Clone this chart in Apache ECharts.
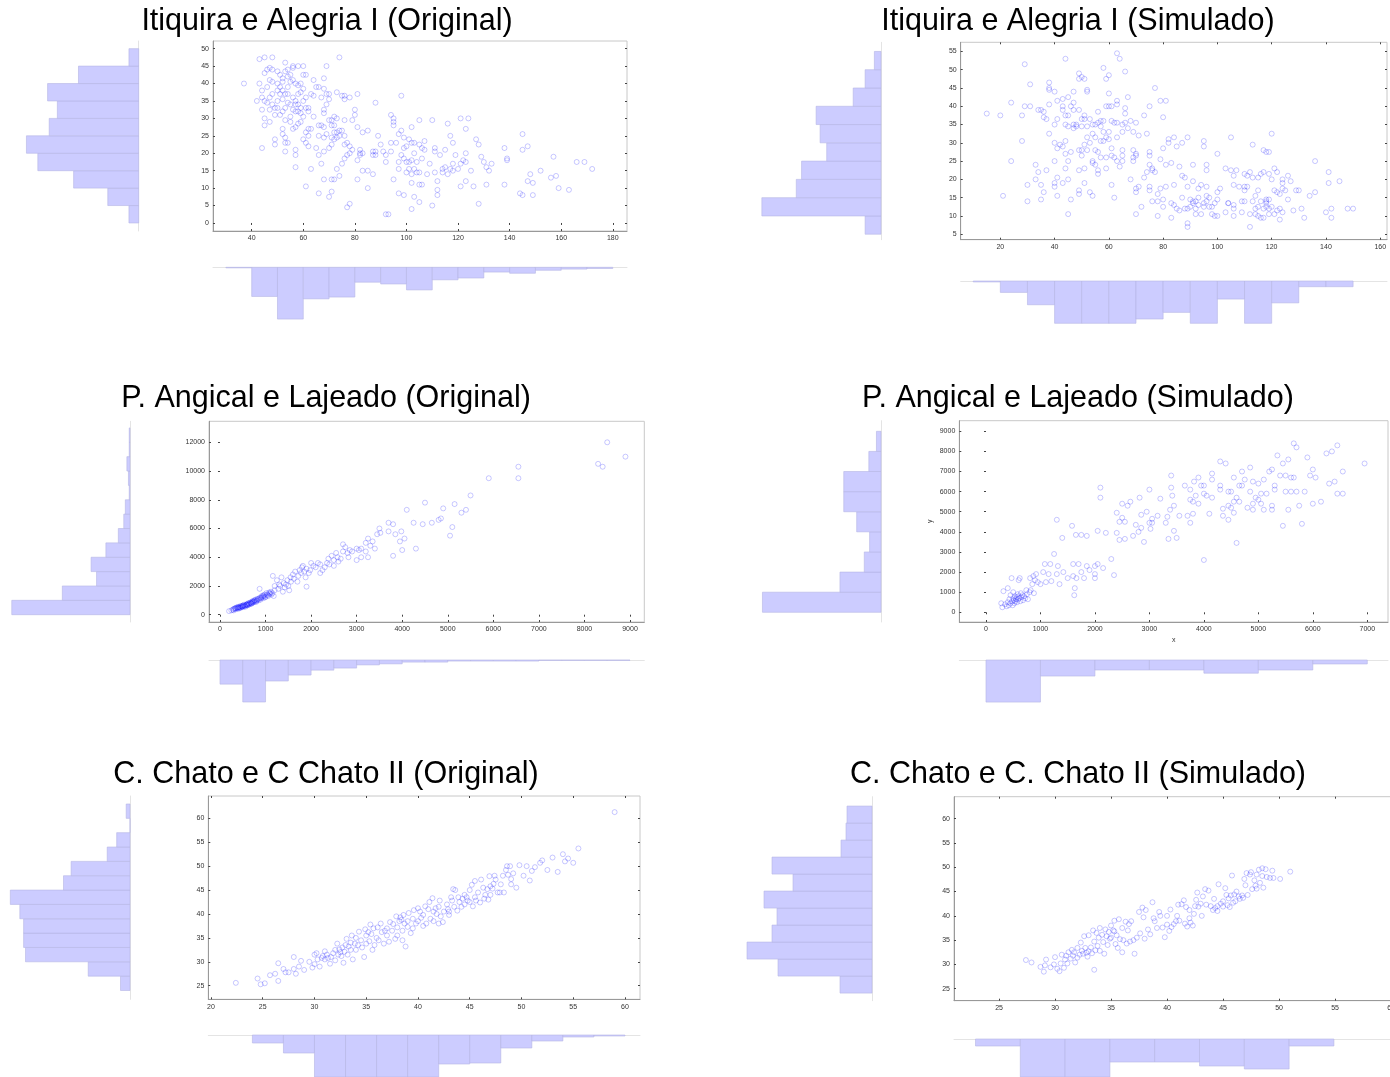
<!DOCTYPE html>
<html><head><meta charset="utf-8">
<script src="https://cdn.jsdelivr.net/npm/echarts@6/dist/echarts.min.js"></script>
<style>html,body{margin:0;padding:0;background:#fff;overflow:hidden;}#c{width:1410px;height:1077px;}</style>
</head><body><div id="c"></div>
<script>
// ---------------- DATA ----------------
const titles = ['Itiquira e Alegria I (Original)', 'Itiquira e Alegria I (Simulado)',
  'P. Angical e Lajeado (Original)', 'P. Angical e Lajeado (Simulado)',
  'C. Chato e C Chato II (Original)', 'C. Chato e C. Chato II (Simulado)'];

const p1XTicks = [40,60,80,100,120,140,160,180];
const p1YTicks = [0,5,10,15,20,25,30,35,40,45,50];
const p2XTicks = [20,40,60,80,100,120,140,160];
const p2YTicks = [5,10,15,20,25,30,35,40,45,50,55];
const p3XTicks = [0,1000,2000,3000,4000,5000,6000,7000,8000,9000];
const p3YTicks = [0,2000,4000,6000,8000,10000,12000];
const p4XTicks = [0,1000,2000,3000,4000,5000,6000,7000];
const p4YTicks = [0,1000,2000,3000,4000,5000,6000,7000,8000,9000];
const p5XTicks = [20,25,30,35,40,45,50,55,60];
const p5YTicks = [25,30,35,40,45,50,55,60];
const p6XTicks = [25,30,35,40,45,50,55,60];
const p6YTicks = [25,30,35,40,45,50,55,60];

const p1Points = [[37,40],[42,35],[43,47],[43,40],[44,38],[44,36],[44,32.5],[44,21.5],[45,47.5],[45,43],[45,35],[45,30],[45,28],[46,44],[46,39],[46,34.5],[47,44.5],[47,41],[47,36],[47,32.5],[47,29],[48,47.5],[48,44],[48,40.5],[48,37],[48,34],[49,33],[49,31],[49,24],[49,22.5],[50,43.5],[50,40],[50,38],[50,35],[50,33],[51,42.5],[51,39],[51,37],[51,31],[52,41.5],[52,40.5],[52,38],[52,35.5],[52,32],[52,27],[52,25.5],[53,46],[53,43.5],[53,37],[53,33],[53,29.5],[53,24.5],[53,23],[53,20.5],[54,44],[54,42],[54,39],[54,37],[54,34.5],[54,23],[55,42.5],[55,40.5],[55,34],[55,30.5],[55,29],[56,45],[56,44.5],[56,41],[56,36],[56,32.5],[56,27],[57,40],[57,35],[57,34],[57,32],[57,27.5],[57,21],[57,19.5],[57,16],[58,45],[58,39.5],[58,37],[58,34],[58,32],[58,28.5],[59,40],[59,37.5],[59,33],[59,31.5],[59,29],[60,45],[60,42.5],[60,38.5],[60,35],[60,30.5],[60,24],[61,42.5],[61,36],[61,33],[61,26],[61,23],[61,10.5],[62,33],[62,32],[62,27],[62,25],[62,22],[63,37],[63,27],[63,15.5],[64,41],[64,36.5],[64,30.5],[65,39],[65,21.5],[66,39],[66,28],[66,25],[66,19.5],[66,8.5],[67,36],[67,28],[67,17],[68,41.5],[68,38.5],[68,32.5],[68,31.5],[68,27.5],[68,24.5],[68,20.5],[68,12.5],[69,45],[69,37],[69,34],[69,25.5],[70,37],[70,35.5],[70,29.5],[70,21.5],[70,7.5],[71,29.5],[71,28],[71,24.5],[71,22.5],[71,12.5],[71,9],[72,30.5],[72,28],[72,26],[72,24],[72,12.5],[73,37.5],[73,30],[73,26],[73,24.5],[73,15.5],[74,47.5],[74,26.5],[74,25],[74,13.5],[75,36.5],[75,26.5],[75,17],[76,36.5],[76,35.5],[76,29.5],[76,25],[76,22.5],[76,18.5],[77,23],[77,19.5],[77,4.5],[78,36],[78,22],[78,20],[78,5.5],[79,29.5],[79,21],[80,32.5],[80,31],[81,37],[81,27.5],[81,18],[81,12.5],[82,21],[82,20],[82,19.5],[83,26],[83,20],[83,15],[85,26.5],[85,15],[85,10],[87,20.5],[87,19.5],[87,14],[88,34.5],[88,19.5],[88,20.5],[89,25],[90,22.5],[91,20.5],[92,19.5],[92,17.5],[92,2.5],[93,2.5],[94,31],[94,23],[94,20.5],[95,30],[95,29],[95,28],[95,12.5],[96,23],[97,25.5],[97,17.5],[97,15.5],[97,8.5],[98,36.5],[98,26.5],[98,19.5],[99,24.5],[99,21.5],[99,18.5],[99,8],[100,22],[100,17.5],[100,14.5],[101,24],[101,17.5],[101,15.5],[102,27.5],[102,23],[102,18],[102,14],[102,11.5],[102,4],[103,23],[103,20],[103,15.5],[103,7.5],[104,14.5],[104,17.5],[105,29.5],[105,22.5],[105,14.5],[105,11],[105,6],[106,21.5],[106,18.5],[106,11],[107,23.5],[107,21],[108,14],[109,17],[110,29.5],[110,5],[111,21.5],[111,20.5],[111,14.5],[112,12],[112,9.5],[112,8],[113,19.5],[114,15.5],[114,14.5],[115,21],[115,16],[116,28.5],[116,14],[117,25],[117,15.5],[118,23],[118,17],[118,15],[119,19.5],[120,15.5],[121,30],[121,17],[121,10.5],[122,18],[123,27],[123,20],[123,17.5],[123,12],[124,30],[125,15],[126,10.5],[127,24],[128,22.5],[128,5.5],[129,19],[130,17.5],[131,16],[131,11],[132,15],[133,17],[138,21.5],[138,11],[139,18.5],[139,18],[144,8.5],[145,25.5],[145,21],[145,8],[147,22],[147,12],[148,14],[149,11.5],[149,8],[152,15],[156,13],[157,19],[158,13.5],[159,10],[163,9.5],[166,17.5],[169,17.5],[172,15.5]];

const p2Points = [[15,38],[20,37.5],[21,15.5],[24,41],[24,25],[28,37.5],[28,30.5],[29,51.5],[29,40],[30,18.5],[30,14],[31,46],[31,40],[33,24],[33,20],[34,39],[34,22],[35,39],[35,18.5],[35,14.5],[36,38.5],[36,37],[36,16.5],[37,36.5],[37,22.5],[38,46.5],[38,45],[38,44.5],[38,40.5],[38,32.5],[40,44],[40,35],[40,30],[40,25],[40,19],[40,18],[41,41.5],[41,36.5],[41,28.5],[41,20.5],[41,15.5],[42,29.5],[43,42],[43,40],[43,39],[43,29],[43,19],[44,53],[44,37.5],[44,35],[44,30.5],[44,27],[44,23],[45,42.5],[45,37.5],[45,34.5],[45,25],[45,20],[45,10.5],[46,40],[46,27.5],[46,14.5],[47,44],[47,41],[47,39],[47,35],[47,34],[48,35],[48,34.5],[49,47.5],[49,49],[49,39],[49,28],[49,22.5],[49,17],[49,16],[50,48],[50,36.5],[50,34.5],[50,28],[50,26.5],[51,47.5],[51,37.5],[51,36.5],[51,29.5],[51,23],[51,19],[52,44.5],[52,44],[52,34.5],[52,31.5],[52,28],[53,36.5],[53,30],[53,16.5],[54,35],[54,32.5],[54,25],[54,24.5],[54,15.5],[55,35],[55,31.5],[55,28],[55,24],[56,38.5],[56,35.5],[56,27.5],[56,22.5],[56,21.5],[57,36],[57,34.5],[57,30.5],[57,26],[58,50.5],[58,36],[58,33],[58,30.5],[59,47.5],[59,40],[59,31.5],[59,26],[59,23],[60,48.5],[60,43.5],[60,40],[60,33],[60,31],[61,40],[61,36],[61,28.5],[61,26.5],[61,18.5],[62,35.5],[62,26],[62,15],[63,54.5],[63,41.5],[63,40.5],[63,35.5],[63,31.5],[63,25],[64,53],[64,23.5],[65,35],[65,33],[65,28],[65,26.5],[65,25],[66,49.5],[66,39.5],[66,38],[66,35.5],[67,42.5],[67,34],[68,36],[68,20],[69,33],[69,28],[69,26],[69,25],[70,35.5],[70,27],[70,26.5],[70,17.5],[70,16.5],[70,10.5],[71,18],[71,32],[72,12.5],[73,37.5],[73,20.5],[74,32.5],[74,22],[75,40],[75,27.5],[75,26.5],[75,24],[75,18],[75,17],[76,23],[76,22.5],[76,14],[77,45],[77,22],[78,16],[78,14],[78,10],[79,41.5],[79,25.5],[79,17.5],[80,37],[80,14.5],[80,12.5],[80,28.5],[81,41.5],[81,24],[81,18],[82,31],[82,30],[83,24.5],[83,13.5],[83,9.5],[84,31.5],[84,18.5],[84,13],[85,29],[85,12],[86,23.5],[86,11.5],[87,30],[87,21],[87,15],[88,20.5],[88,12],[89,31.5],[89,18],[89,12],[89,8],[89,7],[90,14.5],[90,12.5],[91,24],[91,19.5],[91,14],[91,13.5],[92,14],[92,12],[92,10.5],[93,17.5],[93,15],[93,13],[94,18.5],[94,10.5],[95,30.5],[95,29],[95,13.5],[95,12.5],[96,24],[96,22.5],[96,18],[96,15.5],[96,14],[97,15],[97,12.5],[98,10.5],[98,12.5],[99,13.5],[99,10],[100,27],[100,16.5],[100,14.5],[100,10],[101,17.5],[103,23],[103,11],[104,13.5],[104,13.5],[105,22.5],[105,31.5],[106,21],[106,18.5],[106,13],[106,12],[106,10],[107,22.5],[108,18],[109,14],[109,11],[110,21.5],[110,18],[110,17],[110,14],[111,21],[111,18],[112,22],[112,10.5],[112,7],[113,29.5],[113,20.5],[113,14],[114,15.5],[114,12],[114,10.5],[115,20.5],[115,17],[115,12.5],[115,10],[116,21.5],[116,14],[116,9.5],[117,28],[117,22],[117,12],[117,9.5],[118,27.5],[118,14.5],[118,14],[118,13.5],[118,12.5],[119,21.5],[119,27.5],[119,14.5],[119,12],[119,10.5],[120,20],[120,32.5],[120,12.5],[121,23],[121,17],[121,10.5],[122,22],[122,16.5],[122,11.5],[123,9],[123,16],[123,12],[124,19],[124,17.5],[124,11],[124,20],[125,17],[126,21],[126,14.5],[127,19.5],[128,11.5],[129,17],[130,17],[131,12],[132,9.5],[134,15.5],[136,25],[136,16.5],[140,11],[141,22],[141,19],[142,12],[142,9.5],[145,19.5],[148,12],[150,12]];

const p3Points = [[200,250],[250,300],[280,350],[300,400],[300,300],[320,420],[330,450],[350,380],[350,450],[360,500],[380,500],[390,420],[400,480],[400,550],[410,520],[420,430],[430,520],[440,480],[450,600],[460,500],[470,600],[480,550],[490,580],[500,620],[500,520],[510,650],[520,600],[530,700],[540,580],[550,650],[560,560],[570,660],[580,700],[590,720],[600,750],[600,650],[610,680],[620,800],[630,700],[640,780],[650,720],[660,850],[670,820],[680,780],[690,760],[700,900],[700,800],[710,870],[720,950],[730,850],[740,920],[750,1000],[760,900],[770,980],[780,1050],[790,880],[800,950],[810,1000],[820,1100],[830,1080],[850,1000],[860,1120],[870,1800],[880,1200],[890,1050],[900,1150],[910,1200],[920,1300],[940,1250],[950,1350],[950,1150],[970,1300],[980,1400],[990,1200],[1000,1250],[1020,1500],[1030,1400],[1050,1350],[1060,1300],[1080,1550],[1090,1500],[1100,1450],[1120,1600],[1130,1400],[1150,1500],[1160,2700],[1180,1300],[1200,1700],[1200,2000],[1250,2400],[1280,1800],[1300,2100],[1320,2000],[1350,2600],[1380,1600],[1400,2200],[1420,1900],[1450,2100],[1480,2400],[1500,2000],[1520,1700],[1550,2600],[1560,2300],[1600,2800],[1620,2500],[1650,3000],[1700,2300],[1720,2700],[1750,3100],[1780,2900],[1800,3300],[1820,3400],[1850,3000],[1880,2600],[1900,1950],[1900,3200],[1950,2900],[1980,3100],[2000,3600],[2050,3400],[2100,3300],[2150,3600],[2200,3500],[2200,2900],[2250,3100],[2300,3300],[2350,3600],[2380,3900],[2400,3500],[2450,4100],[2500,3800],[2500,3400],[2550,4300],[2580,4000],[2600,3700],[2650,3900],[2700,4900],[2700,4400],[2750,4700],[2800,4300],[2820,4000],[2850,4500],[2900,4400],[3000,3800],[3000,4600],[3050,4500],[3100,4600],[3100,4000],[3200,5000],[3200,4400],[3250,5300],[3250,4000],[3300,4800],[3350,5100],[3400,4600],[3450,5600],[3500,6000],[3520,5700],[3700,5800],[3700,6400],[3800,6300],[3800,4100],[3850,5600],[3950,5100],[3980,5800],[4000,4500],[4050,5300],[4100,7300],[4250,6400],[4300,4600],[4450,6300],[4500,7800],[4650,6400],[4800,6600],[4850,6700],[4900,7400],[5050,5500],[5100,6100],[5150,7700],[5300,7100],[5400,7300],[5500,8300],[5900,9500],[6550,9500],[6550,10300],[8300,10500],[8400,10300],[8500,12000],[8900,11000]];

const p4Points = [[280,450],[300,250],[320,1050],[350,400],[380,300],[400,500],[400,1200],[420,350],[430,650],[450,850],[450,450],[470,1700],[480,550],[490,350],[500,700],[500,1000],[510,600],[520,450],[530,800],[540,550],[550,650],[560,750],[570,500],[580,900],[590,650],[600,1600],[600,800],[610,700],[620,1700],[630,550],[640,950],[650,750],[670,850],[680,600],[700,800],[720,700],[740,1100],[750,900],[770,650],[800,1000],[810,1700],[820,1100],[850,1400],[870,1800],[880,950],[900,1600],[920,1900],[950,1500],[1000,1400],[1050,2000],[1080,2400],[1100,1500],[1150,1900],[1180,2400],[1200,1550],[1250,2900],[1300,4600],[1300,1900],[1320,2300],[1350,1400],[1400,3700],[1420,2000],[1500,1700],[1580,4300],[1600,2400],[1600,1800],[1620,850],[1630,1200],[1650,3850],[1660,1700],[1700,2400],[1750,3850],[1750,2000],[1800,1700],[1850,3800],[1850,2300],[1900,2100],[2000,2300],[2000,1700],[2000,1900],[2050,4050],[2050,2400],[2100,6200],[2100,5700],[2150,2200],[2200,3950],[2300,2650],[2350,1850],[2400,3950],[2400,4950],[2450,4500],[2450,3600],[2500,4700],[2500,5400],[2550,3650],[2550,4500],[2600,5300],[2650,5500],[2700,3800],[2750,4350],[2800,4000],[2820,5700],[2850,4850],[2850,4200],[2900,3500],[2950,5000],[3000,4450],[3000,6100],[3020,4150],[3050,4450],[3050,4650],[3150,4800],[3200,5650],[3300,4450],[3330,4750],[3350,3650],[3380,5100],[3400,6800],[3400,6200],[3420,5800],[3450,5300],[3450,4050],[3500,3700],[3550,4800],[3650,6300],[3700,4800],[3750,4450],[3750,5600],[3750,6100],[3800,4900],[3800,5500],[3820,6500],[3850,5800],[3900,6700],[3900,5400],[3950,6300],[4000,6300],[4000,5900],[4000,2600],[4050,5800],[4100,4900],[4150,6600],[4150,6900],[4150,5700],[4300,7500],[4300,6300],[4300,6100],[4350,5150],[4350,4800],[4400,7400],[4450,4600],[4450,6000],[4450,5300],[4500,6000],[4500,5200],[4550,6700],[4550,5500],[4550,4950],[4600,3450],[4600,5700],[4650,5500],[4650,6300],[4700,7000],[4700,6300],[4750,6600],[4800,5200],[4850,7200],[4850,6000],[4900,6500],[4900,5400],[4900,5100],[4950,5700],[5000,6400],[5000,5600],[5050,5400],[5050,5900],[5100,6600],[5100,5100],[5150,5900],[5200,7000],[5250,7100],[5250,5300],[5250,5100],[5300,6100],[5300,6300],[5350,7800],[5400,6800],[5450,4300],[5450,7400],[5500,6800],[5500,6000],[5550,7600],[5550,5100],[5600,6700],[5600,6000],[5650,8400],[5650,6700],[5700,8200],[5700,6000],[5750,5300],[5800,4400],[5850,6000],[5900,7700],[5950,6800],[6000,5400],[6000,7100],[6050,6700],[6150,5500],[6250,7900],[6300,6400],[6350,8000],[6400,6500],[6450,8300],[6450,5900],[6550,7000],[6550,5900],[6950,7400]];

const p5Points = [[22.4,25.6],[24.5,26.5],[24.8,25.3],[25.2,25.5],[25.7,27.2],[26.2,27.5],[26.5,26],[26.5,29.7],[27,28.5],[27.2,27.8],[27.5,27.8],[28,28.5],[28,31],[28.2,27.5],[28.5,29],[28.7,30.2],[29,28.3],[29.5,30],[29.8,28.8],[30,31.5],[30,29.5],[30.2,31.8],[30.5,29],[30.7,30.8],[31,32.2],[31,30.5],[31.2,31.5],[31.5,29.6],[31.6,31],[32,32.5],[32,30.3],[32.3,31.5],[32.5,32],[32.7,33],[32.8,29.8],[33,33.5],[33.2,31.5],[33.5,34],[33.5,32.5],[33.7,30.5],[34,35],[34,32.5],[34.2,33.5],[34.5,34.5],[34.8,31],[35,35.5],[35,33.8],[35.3,34.3],[35.5,35.8],[35.6,32.5],[35.8,33.5],[36,35],[36.2,34.5],[36.5,36.2],[36.7,33.8],[37,35.5],[37,37],[37.2,34.2],[37.5,36.5],[37.8,34.8],[38,35.5],[38,37.2],[38.2,38.5],[38.5,36.5],[38.5,34.5],[38.8,33.2],[39,37.3],[39,38.5],[39.3,36],[39.5,39],[39.5,37],[39.8,38],[40,38.5],[40.2,40.5],[40.5,37.5],[40.5,39.8],[40.8,38],[41,41],[41.2,39],[41.5,38.5],[41.5,40.5],[41.8,40],[42,41.5],[42,38],[42.2,39.5],[42.5,40.5],[42.8,42],[43,40.5],[43,39.8],[43.2,43.5],[43.5,41.5],[43.8,40.7],[44,42.5],[44.2,41.5],[44.5,42],[44.5,44],[44.7,43.5],[45,42.5],[45,45],[45.3,41.6],[45.5,43.5],[45.8,44.5],[46,42.4],[46.3,45.5],[46.5,44],[46.8,43],[47,45.8],[47,44],[47.3,46.3],[47.5,47.2],[47.7,44.5],[48,46.2],[48.2,48],[48.5,49.2],[48.7,48.2],[49,46.2],[49,47.3],[49.2,48.5],[49.5,45.5],[49.8,50.2],[50.2,48],[50.5,50],[50.8,47],[51,49],[51.3,49.8],[51.8,50.7],[52,51.2],[52.5,49.2],[53,51.8],[53.5,48.8],[54,52.5],[54.2,51],[54.5,51.6],[55,50.7],[55.5,53.7],[59,61.3],[30.3,30.5],[30.8,31.2],[31.3,30.8],[31.8,31.8],[32.2,33.8],[32.4,32.6],[32.6,31.2],[32.9,32.1],[33.1,34.8],[33.3,33.2],[33.6,35.5],[33.9,33.8],[34.3,36.3],[34.6,33],[34.9,36.8],[35.2,36.2],[35.4,37.8],[35.7,37],[36.1,37.2],[36.4,38],[36.8,36.5],[37.3,38.3],[37.6,37.9],[37.9,39.5],[38.3,39.3],[38.6,39.8],[38.4,38.8],[38.7,38],[39.1,40.2],[39.6,40.8],[40,41.2],[40.3,39.2],[40.7,41.6],[41.1,42.5],[41.4,43.3],[41.7,41.2],[42.1,42.8],[42.4,38.3],[42.9,41],[43.3,42.8],[43.6,45],[43.4,45.2],[43.9,43.5],[44.3,43.2],[44.8,42.8],[45.2,46.1],[45.6,42.8],[45.5,46.9],[46.1,47.2],[46.4,43.2],[46.9,47.9],[47.4,48],[47.9,44.5],[48.3,44.5],[48.6,50],[48.9,50],[47.2,45.3],[46.7,45.2]];

const p6Points = [[27.4,30.9],[27.9,30.4],[28.7,29.5],[29,28.5],[29.2,31],[29.1,29.8],[29.6,29.4],[29.9,30],[30,31.5],[30.2,29.1],[30.4,28.6],[30.5,30.2],[30.6,32],[30.8,29.3],[30.9,31],[31,31.8],[31.1,30.2],[31.2,32.5],[31.4,31.2],[31.5,33],[31.6,31.8],[31.7,32.5],[31.8,30.4],[32,33.4],[32,31.4],[32.2,32],[32.3,34.5],[32.4,32.8],[32.5,32.2],[32.6,35.8],[32.7,33.4],[32.8,32.4],[32.9,31.6],[33,36],[33,32.7],[33.2,33.5],[33.3,32.3],[33.4,37],[33.5,28.9],[33.5,34.7],[33.6,32.9],[33.7,36.5],[33.8,33.8],[33.9,35.5],[34,37.5],[34,32.8],[34.2,36.1],[34.3,34.6],[34.4,32.2],[34.5,37.2],[34.6,35.8],[34.7,34],[34.8,36.7],[34.9,35.3],[35,38],[35,35.5],[35.2,37],[35.3,39],[35.3,36.8],[35.4,34.2],[35.5,36],[35.6,33.4],[35.7,39.3],[35.8,35.2],[36,37.5],[36,32.5],[36.1,35],[36.3,38.8],[36.4,34.3],[36.5,37],[36.6,38.3],[36.7,34.7],[36.8,38.9],[37,35],[37.1,32.2],[37.3,35.5],[37.5,40.8],[37.6,36.4],[37.8,41.7],[37.9,39.7],[38,35.3],[38.1,41.2],[38.3,37.2],[38.5,36.2],[38.7,42.8],[38.8,39.5],[38.9,38.9],[39.1,37.5],[39.3,40.8],[39.4,40],[39.6,37.6],[39.8,35.6],[40,38.2],[40,40],[40.2,36.9],[40.3,41.3],[40.4,37.7],[40.6,38.3],[40.8,38.9],[40.9,40],[41,42.3],[41.1,39],[41.3,42.4],[41.5,43.2],[41.6,38.4],[41.7,41.8],[41.8,37.8],[42,39.5],[42,41.2],[42.1,38.6],[42.3,38],[42.4,40.4],[42.5,42],[42.6,43.3],[42.7,44.8],[42.8,41.9],[43,42.5],[43.1,40],[43.2,44],[43.4,45.5],[43.5,42.3],[43.7,45.2],[43.9,42],[44.1,41.2],[44.2,43.5],[44.3,41.6],[44.5,42],[44.5,41],[44.6,46.5],[44.8,42.5],[45,43],[45,41.9],[45.2,45.7],[45.3,44.3],[45.4,42.2],[45.5,43.6],[45.6,41.8],[45.7,44.2],[45.8,48.3],[45.9,42.7],[46,44.4],[46.1,43],[46.2,45],[46.4,44],[46.5,43.5],[46.7,44.2],[46.8,43.7],[46.9,47.6],[47,46.3],[47.1,48.8],[47.2,44.3],[47.4,48.5],[47.5,49],[47.6,45.5],[47.8,47.3],[47.9,46.2],[48,48.5],[48,45.6],[48.2,49.5],[48.3,46.8],[48.5,49.8],[48.5,48.2],[48.6,45.8],[48.8,49.6],[48.9,48],[49.2,47.8],[49.4,49.3],[49.5,47.8],[50.1,47.6],[51,49.1]];

// Histograms: first bin start, bin width, counts (low -> high)
const p1YHistStart = 0,  p1YHistBin = 5,  p1YHistCounts = [6,19,40,62,69,55,50,56,37,6];
const p1XHistStart = 30, p1XHistBin = 10, p1XHistCounts = [1,49,87,53,50,25,28,38,21,18,8,10,5,3,2];
const p2YHistStart = 5,  p2YHistBin = 5,  p2YHistCounts = [12,90,64,60,41,46,49,21,12,5];
const p2XHistStart = 10, p2XHistBin = 10, p2XHistCounts = [1,12,25,47,50,48,40,33,46,19,47,23,6,6];
const p3YHistStart = 0,  p3YHistBin = 1000, p3YHistCounts = [152,87,43,50,31,15,8,6,1,2,4,1,1];
const p3XHistStart = 0,  p3XHistBin = 500,  p3XHistCounts = [69,120,60,43,29,23,14,11,6,6,3,3,3,3,1,1,1,1];
const p4YHistStart = 0,  p4YHistBin = 1000, p4YHistCounts = [156,54,22,15,32,49,49,16,6];
const p4XHistStart = 0,  p4XHistBin = 1000, p4XHistCounts = [160,61,38,38,50,38,15];
const p5YHistStart = 24, p5YHistBin = 3, p5YHistCounts = [5,22,55,56,56,58,63,35,31,12,7,0,2];
const p5XHistStart = 24, p5XHistBin = 3, p5XHistCounts = [8,18,70,78,75,72,29,28,13,6,2,1];
const p6YHistStart = 24.1, p6YHistBin = 3.5, p6YHistCounts = [32,94,125,100,95,108,79,100,31,26,25];
const p6XHistStart = 22.9, p6XHistBin = 4, p6XHistCounts = [7,60,60,23,23,27,30,7];

// ---------------- LAYOUT ----------------
const panels = [
  {title:titles[0], tx:327, ty:22, pts:p1Points, xt:p1XTicks, yt:p1YTicks,
   g:{left:213, top:41, width:414, height:190}, xr:[25,185.5], yr:[-2.3,52.2],
   yh:{left:10, right:138.7, max:79.1, start:p1YHistStart, bin:p1YHistBin, counts:p1YHistCounts},
   xh:{top:267.3, height:60, max:100.8, start:p1XHistStart, bin:p1XHistBin, counts:p1XHistCounts}},
  {title:titles[1], tx:1078, ty:22, pts:p2Points, xt:p2XTicks, yt:p2YTicks,
   g:{left:960.7, top:42.3, width:426.3, height:197.4}, xr:[5.4,162.5], yr:[3.5,57.5],
   yh:{left:760, right:881, max:91.4, start:p2YHistStart, bin:p2YHistBin, counts:p2YHistCounts},
   xh:{top:281, height:42.3, max:44.5, start:p2XHistStart, bin:p2XHistBin, counts:p2XHistCounts}},
  {title:titles[2], tx:326, ty:399, pts:p3Points, xt:p3XTicks, yt:p3YTicks,
   g:{left:209, top:421.3, width:435.3, height:200.7}, xr:[-241,9314], yr:[-508,13462],
   yh:{left:5, right:130, max:160.7, start:p3YHistStart, bin:p3YHistBin, counts:p3YHistCounts},
   xh:{top:660, height:45, max:128.6, start:p3XHistStart, bin:p3XHistBin, counts:p3XHistCounts}},
  {title:titles[3], tx:1078, ty:399, pts:p4Points, xt:p4XTicks, yt:p4YTicks, names:true,
   g:{left:959.3, top:420.7, width:428.7, height:201.3}, xr:[-490,7380], yr:[-482,9527],
   yh:{left:755, right:881, max:165.8, start:p4YHistStart, bin:p4YHistBin, counts:p4YHistCounts},
   xh:{top:660, height:45, max:171, start:p4XHistStart, bin:p4XHistBin, counts:p4XHistCounts}},
  {title:titles[4], tx:326, ty:775, pts:p5Points, xt:p5XTicks, yt:p5YTicks,
   g:{left:208.3, top:796, width:431.7, height:203.3}, xr:[19.74,61.45], yr:[22.16,64.67],
   yh:{left:5, right:130, max:65.8, start:p5YHistStart, bin:p5YHistBin, counts:p5YHistCounts},
   xh:{top:1035, height:42, max:42, start:p5XHistStart, bin:p5XHistBin, counts:p5XHistCounts}},
  {title:titles[5], tx:1078, ty:775, pts:p6Points, xt:p6XTicks, yt:p6YTicks,
   g:{left:954, top:796.7, width:446, height:204}, xr:[20.98,60.8], yr:[22.53,64.53],
   yh:{left:745, right:872, max:127, start:p6YHistStart, bin:p6YHistBin, counts:p6YHistCounts},
   xh:{top:1039, height:38, max:38, start:p6XHistStart, bin:p6XHistBin, counts:p6XHistCounts}}
];

function bins(h){ return h.counts.map((c,i)=>[h.start+i*h.bin, h.start+(i+1)*h.bin, c]); }

function histRender(horizontal){
  return function(params, api){
    const lo = api.value(0), hi = api.value(1), c = api.value(2);
    let a, b;
    if (horizontal){ a = api.coord([0, lo]); b = api.coord([c, hi]); }
    else { a = api.coord([lo, 0]); b = api.coord([hi, c]); }
    const cs = params.coordSys;
    const r = echarts.graphic.clipRectByRect(
      {x:Math.min(a[0],b[0]), y:Math.min(a[1],b[1]), width:Math.abs(a[0]-b[0]), height:Math.abs(a[1]-b[1])},
      {x:cs.x, y:cs.y, width:cs.width, height:cs.height});
    if (!r) return null;
    return {type:'rect', shape:r, style:{fill:'#ccccff', stroke:'#b6b6e4', lineWidth:0.6}};
  };
}

const grid=[], xAxis=[], yAxis=[], series=[], graphic=[];
const FONT = '"Liberation Sans", Arial, Helvetica, sans-serif';
const plain = (v)=>String(v);
const labelStyle = {fontSize:7, color:'#333', fontFamily:FONT, formatter:plain};

panels.forEach((p)=>{
  graphic.push({type:'text', x:p.tx, y:p.ty, style:{text:p.title, font:'30.5px '+FONT, fill:'#000', textAlign:'center', textVerticalAlign:'middle'}});
  const gi = grid.length;
  grid.push({left:p.g.left, top:p.g.top, width:p.g.width, height:p.g.height, show:true, borderColor:'#c8c8c8', borderWidth:1, backgroundColor:'#fff'});
  const tick = (vals)=>({show:true, inside:true, length:2, customValues:vals, lineStyle:{color:'#444', width:1}});
  const xi = xAxis.length;
  xAxis.push({type:'value', gridIndex:gi, min:p.xr[0], max:p.xr[1], position:'bottom',
    axisLine:{show:true, onZero:false, lineStyle:{color:'#999'}}, axisTick:tick(p.xt),
    axisLabel:Object.assign({customValues:p.xt, margin:4}, labelStyle), splitLine:{show:false},
    name: p.names ? 'x' : '', nameLocation:'middle', nameGap:15, nameTextStyle:{fontSize:7, color:'#333', fontFamily:FONT}});
  xAxis.push({type:'value', gridIndex:gi, min:p.xr[0], max:p.xr[1], position:'top',
    axisLine:{show:false}, axisTick:tick(p.xt), axisLabel:{show:false}, splitLine:{show:false}});
  const yi = yAxis.length;
  yAxis.push({type:'value', gridIndex:gi, min:p.yr[0], max:p.yr[1], position:'left',
    axisLine:{show:true, onZero:false, lineStyle:{color:'#999'}}, axisTick:tick(p.yt),
    axisLabel:Object.assign({customValues:p.yt, margin:4}, labelStyle), splitLine:{show:false},
    name: p.names ? 'y' : '', nameLocation:'middle', nameGap:26, nameRotate:90, nameTextStyle:{fontSize:7, color:'#333', fontFamily:FONT}});
  yAxis.push({type:'value', gridIndex:gi, min:p.yr[0], max:p.yr[1], position:'right',
    axisLine:{show:false}, axisTick:tick(p.yt), axisLabel:{show:false}, splitLine:{show:false}});
  series.push({type:'scatter', xAxisIndex:xi, yAxisIndex:yi, data:p.pts, symbol:'circle', symbolSize:5,
    itemStyle:{color:'rgba(0,0,0,0)', borderColor:'rgba(0,0,255,0.3)', borderWidth:0.9}, silent:true, animation:false});

  const hg = grid.length;
  grid.push({left:p.yh.left, top:p.g.top, width:p.yh.right-p.yh.left, height:p.g.height});
  const hx = xAxis.length;
  xAxis.push({type:'value', gridIndex:hg, min:0, max:p.yh.max, inverse:true, show:false});
  const hy = yAxis.length;
  yAxis.push({type:'value', gridIndex:hg, min:p.yr[0], max:p.yr[1], position:'right',
    axisLine:{show:true, onZero:false, lineStyle:{color:'#e4e4e4', width:1}}, axisTick:{show:false}, axisLabel:{show:false}, splitLine:{show:false}});
  series.push({type:'custom', xAxisIndex:hx, yAxisIndex:hy, renderItem:histRender(true), data:bins(p.yh), silent:true, animation:false, encode:{x:2, y:[0,1]}});

  const bg = grid.length;
  grid.push({left:p.g.left, top:p.xh.top, width:p.g.width, height:p.xh.height});
  const bx = xAxis.length;
  xAxis.push({type:'value', gridIndex:bg, min:p.xr[0], max:p.xr[1], position:'top',
    axisLine:{show:true, onZero:false, lineStyle:{color:'#e4e4e4', width:1}}, axisTick:{show:false}, axisLabel:{show:false}, splitLine:{show:false}});
  const by = yAxis.length;
  yAxis.push({type:'value', gridIndex:bg, min:0, max:p.xh.max, inverse:true, show:false});
  series.push({type:'custom', xAxisIndex:bx, yAxisIndex:by, renderItem:histRender(false), data:bins(p.xh), silent:true, animation:false, encode:{x:[0,1], y:2}});
});

const chart = echarts.init(document.getElementById('c'), null, {renderer:'canvas'});
chart.setOption({animation:false, backgroundColor:'#fff', grid, xAxis, yAxis, series, graphic});
</script>
</body></html>
